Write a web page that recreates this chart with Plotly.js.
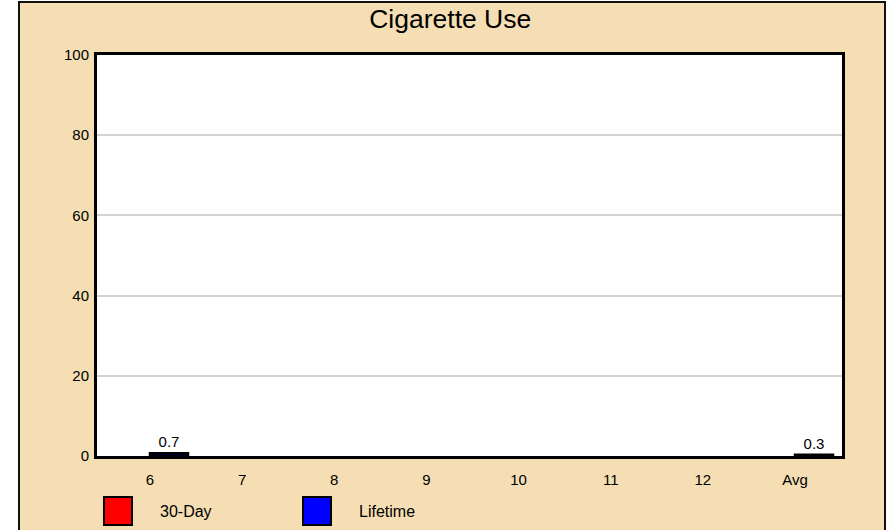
<!DOCTYPE html>
<html>
<head>
<meta charset="utf-8">
<script src="https://cdn.plot.ly/plotly-3.0.1.min.js"></script>
<style>
html,body{margin:0;padding:0;background:#ffffff;width:888px;height:530px;overflow:hidden;}
#frame{position:absolute;left:18px;top:1px;width:864px;height:540px;background:#F5DEB3;border:2px solid #111;}
#chart{position:absolute;left:0;top:0;width:888px;height:530px;}
</style>
</head>
<body>
<div id="frame"></div>
<div id="chart"></div>
<script>
const categories = ["6","7","8","9","10","11","12","Avg"];
const thirtyDay = [0,0,0,0,0,0,0,0];
const lifetime = [0.7,0,0,0,0,0,0,0.3];
const seriesNames = ["30-Day","Lifetime"];
const seriesColors = ["#FF0000","#0000FF"];
const yTicks = [0,20,40,60,80,100];

const FONT = "Liberation Sans, Arial, sans-serif";
function labels(arr){return arr.map(v => v > 0 ? v.toFixed(1) : "");}

const traces = [thirtyDay, lifetime].map((vals, i) => ({
  type: "bar",
  x: categories,
  y: vals,
  name: seriesNames[i],
  text: labels(vals),
  textposition: "outside",
  cliponaxis: false,
  textfont: {family: FONT, size: 15, color: "#000"},
  marker: {color: seriesColors[i], line: {color: "#000", width: vals.map(v => v > 0 ? 2.5 : 0)}},
  hoverinfo: "none"
}));

const legendShapes = [];
const legendAnn = [];
const legendX = [104, 303];
seriesNames.forEach((n, i) => {
  legendShapes.push({type:"rect", xref:"paper", yref:"paper",
    x0:(legendX[i]-97)/745, x1:(legendX[i]+28-97)/745,
    y0:(456-525)/401, y1:(456-497)/401,
    fillcolor:seriesColors[i], line:{color:"#000", width:2}});
  legendAnn.push({xref:"paper", yref:"paper", x:(legendX[i]+54-97)/745, y:(456-511)/401,
    xanchor:"left", yanchor:"middle", text:n, showarrow:false,
    font:{family:FONT, size:16, color:"#000"}});
});

const layout = {
  width: 888, height: 530,
  margin: {l: 97, r: 46, t: 55, b: 74, pad: 0},
  paper_bgcolor: "rgba(0,0,0,0)",
  plot_bgcolor: "#ffffff",
  title: {text: "Cigarette Use", x: 0.507, xanchor: "center", y: 0.964, yanchor: "middle",
    font: {family: FONT, size: 26.5, color: "#000"}},
  showlegend: false,
  barmode: "group",
  bargap: 0.175,
  bargroupgap: 0,
  font: {family: FONT, size: 15, color: "#000"},
  xaxis: {type: "category", range: [-0.575, 7.51], showline: true, mirror: true,
    linecolor: "#000", linewidth: 3, ticks: "", showgrid: false, zeroline: false,
    ticklabelstandoff: 8, tickfont: {size: 15}},
  yaxis: {range: [0, 100], tickvals: yTicks, showline: true, mirror: true,
    linecolor: "#000", linewidth: 3, ticks: "", gridcolor: "#d3d3d3", gridwidth: 2,
    zeroline: false, ticklabelstandoff: 2, tickfont: {size: 15}},
  shapes: legendShapes,
  annotations: legendAnn
};

Plotly.newPlot("chart", traces, layout, {displayModeBar: false, staticPlot: true});
</script>
</body>
</html>
